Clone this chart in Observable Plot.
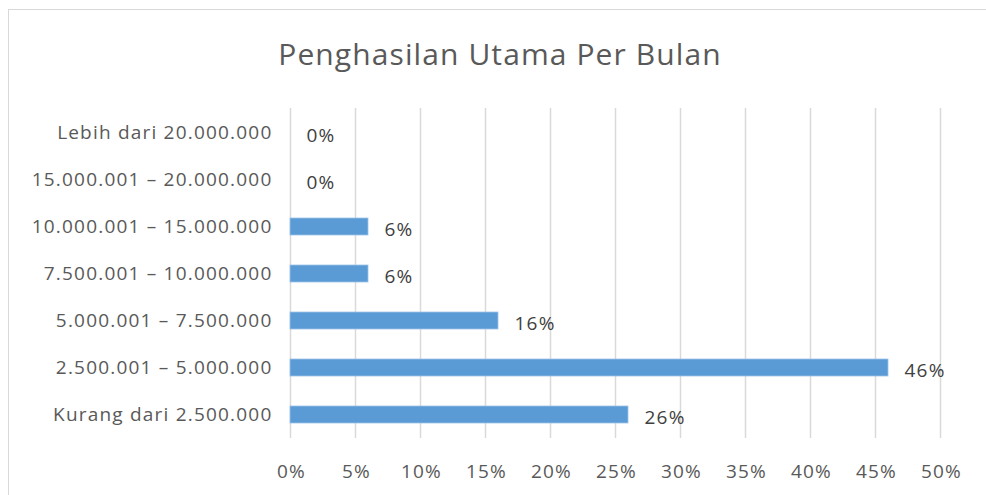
<!DOCTYPE html>
<html>
<head>
<meta charset="utf-8">
<script src="https://cdn.jsdelivr.net/npm/d3@7"></script>
<script src="https://cdn.jsdelivr.net/npm/@observablehq/plot@0.6"></script>
<style>
  html, body { margin: 0; padding: 0; background: #fff; }
  #wrap { position: relative; width: 986px; height: 495px; overflow: hidden; font-family: "Open Sans", sans-serif; }
  #frame { position: absolute; left: 8px; top: 9px; width: 1200px; height: 800px; border: 1.5px solid #d9d9d9; box-sizing: border-box; }
  #title { position: absolute; left: 0; width: 1000px; top: 33px; text-align: center; font-size: 30px; letter-spacing: 1.1px; color: #595959; }
  #chart { position: absolute; left: 0; top: 0; }
  #chart svg text { letter-spacing: 1.2px; }
</style>
</head>
<body>
<div id="wrap">
  <div id="frame"></div>
  <div id="chart"></div>
  <div id="title">Penghasilan Utama Per Bulan</div>
</div>
<script>
const categories = [
  "Lebih dari 20.000.000",
  "15.000.001 – 20.000.000",
  "10.000.001 – 15.000.000",
  "7.500.001 – 10.000.000",
  "5.000.001 – 7.500.000",
  "2.500.001 – 5.000.000",
  "Kurang dari 2.500.000"
];
const values = [0, 0, 0.06, 0.06, 0.16, 0.46, 0.26];
const xTicks = [0, 0.05, 0.10, 0.15, 0.20, 0.25, 0.30, 0.35, 0.40, 0.45, 0.50];

const data = categories.map((c, i) => ({category: c, value: values[i]}));
const pct = d3.format(".0%");

const chart = Plot.plot({
  width: 986,
  height: 495,
  marginLeft: 290,
  marginRight: 46,
  marginTop: 108,
  marginBottom: 57,
  style: {fontFamily: "'Open Sans', sans-serif", background: "transparent", overflow: "visible"},
  x: {domain: [0, 0.5]},
  y: {domain: categories, paddingInner: 0.64, paddingOuter: 0.32},
  marks: [
    Plot.gridX(xTicks, {stroke: "#d9d9d9", strokeOpacity: 1, strokeWidth: 1.5}),
    Plot.barX(data, {y: "category", x: "value", fill: "#5b9bd5", stroke: "#9dc3e6", strokeWidth: 0.8}),
    Plot.text(data, {y: "category", x: "value", text: d => pct(d.value), dx: 16, dy: 3, textAnchor: "start", fontSize: 19, fill: "#404040"}),
    Plot.axisY({tickSize: 0, tickPadding: 18, fontSize: 19, color: "#595959", label: null}),
    Plot.axisX({ticks: xTicks, tickFormat: pct, tickSize: 0, tickPadding: 26, dx: 1, fontSize: 19, color: "#595959", label: null})
  ]
});
document.getElementById("chart").appendChild(chart);
</script>
</body>
</html>
